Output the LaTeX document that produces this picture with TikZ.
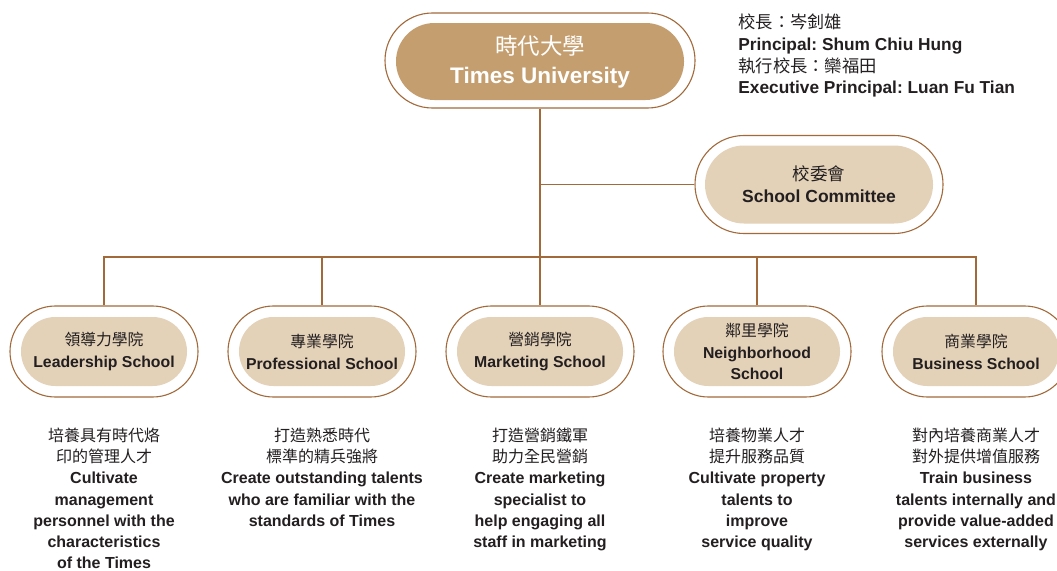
\documentclass[tikz,border=0pt]{standalone}
\usepackage{fontspec}
\setmainfont{Liberation Sans}
\newfontfamily\cjk{Noto Sans CJK TC}
\definecolor{tan}{HTML}{C49E6E}
\definecolor{sand}{HTML}{E3D1B8}
\definecolor{rim}{HTML}{A2693A}
\definecolor{ink}{HTML}{231F20}
\frenchspacing

\begin{document}
\begin{tikzpicture}[x=1pt, y=-1pt, thick, text=ink,
    ring/.style = {draw=rim, line width=1.1pt, fill=white, inner sep=0pt, minimum width=#1},
    ring/.default = {188pt},
    school/.style = {fill=sand, inner sep=0pt, minimum width=166pt, minimum height=69pt, rounded corners=34.4pt, align=center, font=\fontsize{15.8}{22}\selectfont},
    goal/.style = {anchor=north, align=center, inner sep=0pt, font=\fontsize{16}{21.2}\selectfont\bfseries},
    link/.style = {draw=rim, line width=1.1pt}]
    \useasboundingbox (0,0) rectangle (1057,570);

    \node[ring, minimum height=95pt, rounded corners=47.4pt, minimum width=310pt] (top) at (540,60.5) {};
    \node[fill=tan, inner sep=0pt, minimum width=288pt, minimum height=77pt, rounded corners=38.4pt, align=center, text=white, font=\fontsize{22.5}{29}\selectfont] (top_i) at (540,61.5) {{\cjk 時代大學}\\ \textbf{Times University}};

    \node[anchor=north west, align=left, font=\fontsize{17.3}{21.8}\selectfont, inner sep=0pt] (head) at (738,13.5) {{\cjk 校長：岑釗雄}\\ \textbf{Principal: Shum Chiu Hung}\\ {\cjk 執行校長：欒福田}\\ \textbf{Executive Principal: Luan Fu Tian}};

    \node[ring, minimum height=98pt, rounded corners=48.9pt, minimum width=248pt] (com) at (819,184.5) {};
    \node[school, minimum width=228pt, minimum height=78pt, rounded corners=38.9pt, font=\fontsize{17.5}{22}\selectfont] (com_i) at (com) {{\cjk 校委會}\\ \textbf{School Committee}};

    \node[ring, minimum height=91pt, rounded corners=45.4pt] (s_1) at (104,351.5) {};
    \node[ring, minimum height=91pt, rounded corners=45.4pt] (s_2) at (322,351.5) {};
    \node[ring, minimum height=91pt, rounded corners=45.4pt] (s_3) at (540,351.5) {};
    \node[ring, minimum height=91pt, rounded corners=45.4pt] (s_4) at (757,351.5) {};
    \node[ring, minimum height=91pt, rounded corners=45.4pt] (s_5) at (976,351.5) {};

    \node[school] (s_1i) at (s_1) {{\cjk 領導力學院}\\ \textbf{Leadership School}};
    \node[school] (s_2i) at (s_2) {{\cjk 專業學院}\\ \textbf{Professional School}};
    \node[school] (s_3i) at (s_3) {{\cjk 營銷學院}\\ \textbf{Marketing School}};
    \node[school, font=\fontsize{15.8}{21.5}\selectfont] (s_4i) at (s_4) {{\cjk 鄰里學院}\\ \textbf{Neighborhood}\\ \textbf{School}};
    \node[school] (s_5i) at (s_5) {{\cjk 商業學院}\\ \textbf{Business School}};

    \node[goal] (g_1) at (104,427.5) {{\cjk\mdseries 培養具有時代烙}\\ {\cjk\mdseries 印的管理人才}\\ Cultivate\\ management\\ personnel with the\\ characteristics\\ of the Times};
    \node[goal] (g_2) at (322,427.5) {{\cjk\mdseries 打造熟悉時代}\\ {\cjk\mdseries 標準的精兵強將}\\ Create outstanding talents\\ who are familiar with the\\ standards of Times};
    \node[goal] (g_3) at (540,427.5) {{\cjk\mdseries 打造營銷鐵軍}\\ {\cjk\mdseries 助力全民營銷}\\ Create marketing\\ specialist to\\ help engaging all\\ staff in marketing};
    \node[goal] (g_4) at (757,427.5) {{\cjk\mdseries 培養物業人才}\\ {\cjk\mdseries 提升服務品質}\\ Cultivate property\\ talents to\\ improve\\ service quality};
    \node[goal] (g_5) at (976,427.5) {{\cjk\mdseries 對內培養商業人才}\\ {\cjk\mdseries 對外提供增值服務}\\ Train business\\ talents internally and\\ provide value-added\\ services externally};

    \coordinate (bus) at (540,257);
    \draw[link] (top) -- (s_3);
    \draw[link] (com) -- (com.west -| top.south);
    \draw[link] (s_1.north) |- (bus) -| (s_5.north);
    \draw[link] (s_2.north) -- (s_2.north |- bus);
    \draw[link] (s_4.north) -- (s_4.north |- bus);
\end{tikzpicture}
\end{document}
